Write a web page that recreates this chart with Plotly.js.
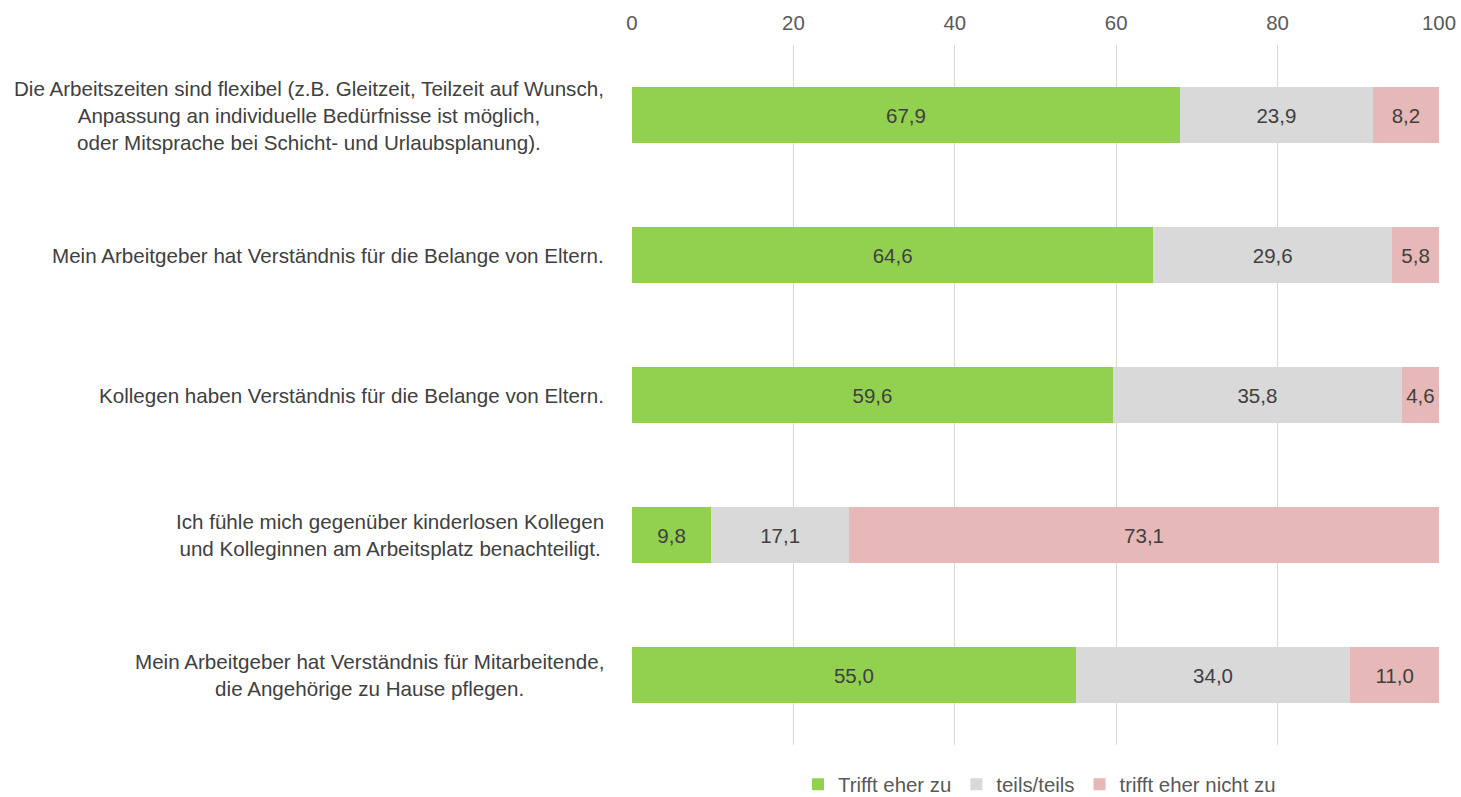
<!DOCTYPE html>
<html><head><meta charset="utf-8">
<script src="https://cdn.plot.ly/plotly-3.0.1.min.js"></script>
<style>html,body{margin:0;padding:0;background:#fff}#chart{width:1461px;height:797px}</style>
</head><body><div id="chart"></div>
<script>
const categories = [
  "Die Arbeitszeiten sind flexibel (z.B. Gleitzeit, Teilzeit auf Wunsch,<br>Anpassung an individuelle Bedürfnisse ist möglich,<br>oder Mitsprache bei Schicht- und Urlaubsplanung).",
  "Mein Arbeitgeber hat Verständnis für die Belange von Eltern.",
  "Kollegen haben Verständnis für die Belange von Eltern.",
  "Ich fühle mich gegenüber kinderlosen Kollegen<br>und Kolleginnen am Arbeitsplatz benachteiligt.",
  "Mein Arbeitgeber hat Verständnis für Mitarbeitende,<br>die Angehörige zu Hause pflegen."
];
const seriesNames = ["Trifft eher zu", "teils/teils", "trifft eher nicht zu"];
const triffZu = [67.9, 64.6, 59.6, 9.8, 55.0];
const teils = [23.9, 29.6, 35.8, 17.1, 34.0];
const nichtZu = [8.2, 5.8, 4.6, 73.1, 11.0];
const colors = ["#92d050", "#d9d9d9", "#e6b9b8"];
const tickVals = [0, 20, 40, 60, 80, 100];

const FONT = 'Liberation Sans, Arial, sans-serif';
const values = [triffZu, teils, nichtZu];
const traces = values.map((v, i) => ({
  type: 'bar', orientation: 'h',
  x: v, y: categories, name: seriesNames[i],
  marker: {color: colors[i]},
  texttemplate: '%{x:.1f}', textposition: 'inside', insidetextanchor: 'middle',
  textfont: {color: '#404040', size: 20.5, family: FONT},
  hoverinfo: 'x+name'
}));

const annotations = categories.map(c => ({
  xref: 'paper', yref: 'y', x: 0, y: c, xshift: -26,
  xanchor: 'right', yanchor: 'middle', align: 'center',
  text: c, showarrow: false,
  font: {size: 20.6, color: '#404040', family: FONT}
}));

const layout = {
  width: 1461, height: 797,
  barmode: 'stack', bargap: 0.6,
  separators: ',.',
  margin: {l: 632, r: 22, t: 45, b: 52, autoexpand: false},
  paper_bgcolor: '#fff', plot_bgcolor: '#fff',
  font: {family: FONT, color: '#404040', size: 20},
  xaxis: {side: 'top', range: [0, 100], tickvals: tickVals, showgrid: true, gridcolor: '#d9d9d9', gridwidth: 1,
          zeroline: false, showline: false, ticks: '', ticklabelstandoff: 10,
          tickfont: {size: 20.4, color: '#595959', family: FONT}},
  yaxis: {autorange: 'reversed', showgrid: false, showline: false, ticks: '', showticklabels: false},
  annotations: annotations,
  showlegend: true,
  legend: {orientation: 'h', x: 0.505, xanchor: 'center', y: -0.028, yanchor: 'top',
           font: {size: 20.4, color: '#595959', family: FONT}, traceorder: 'normal', itemwidth: 30}
};
Plotly.newPlot('chart', traces, layout, {displayModeBar: false, staticPlot: true});
</script></body></html>
